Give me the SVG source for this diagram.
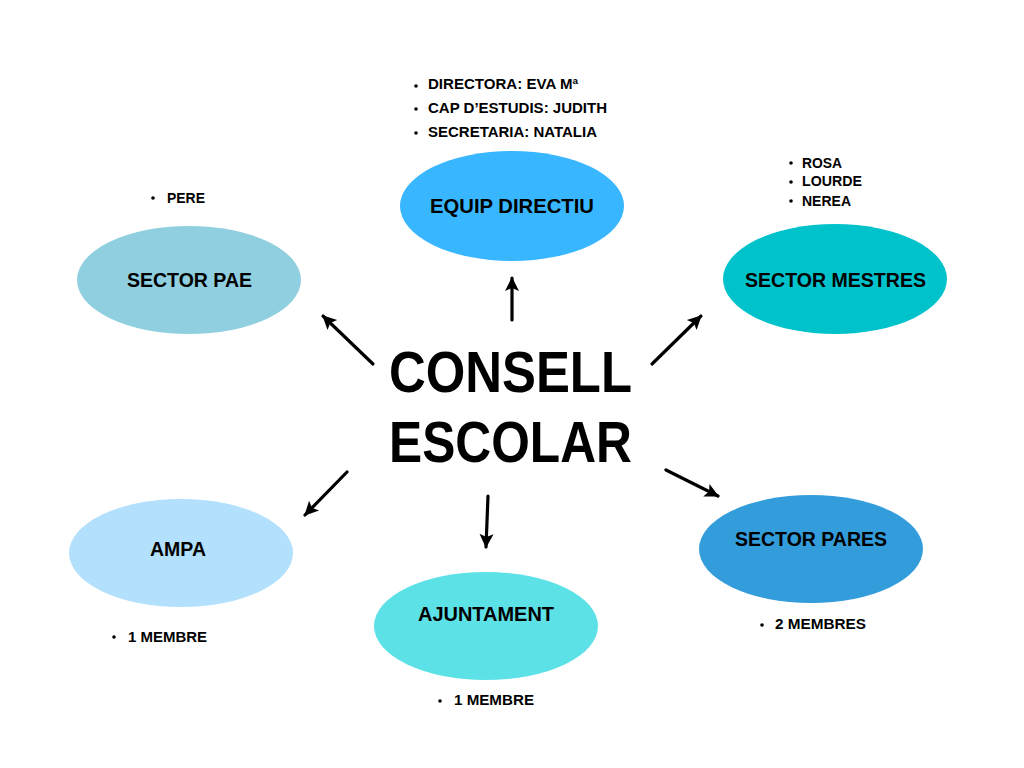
<svg xmlns="http://www.w3.org/2000/svg" width="1024" height="768" viewBox="0 0 1024 768">
<defs>
<marker id="ah" markerUnits="userSpaceOnUse" markerWidth="16" markerHeight="16" viewBox="0 0 16 16" refX="14" refY="8" orient="auto">
<path d="M1,1 L15,8 L1,15 L4,8 Z" fill="#000"/>
</marker>
</defs>
<style>
.lbl{font-family:"Liberation Sans",Arial,sans-serif;font-weight:bold;font-size:21px;fill:#000;text-anchor:start}
.sm{font-family:"Liberation Sans",Arial,sans-serif;font-weight:bold;font-size:14px;fill:#000}
.big{font-family:"Liberation Sans",Arial,sans-serif;font-weight:bold;font-size:58px;fill:#000}
.conn{stroke:#000;stroke-width:3.2;fill:none;stroke-linecap:round;marker-end:url(#ah)}
.dot{fill:#000}
</style>
<rect width="1024" height="768" fill="#fff"/>

<g id="connectors">
<line class="conn" x1="373" y1="364" x2="323" y2="316"/>
<line class="conn" x1="512" y1="320" x2="512" y2="278"/>
<line class="conn" x1="652" y1="364" x2="701" y2="316"/>
<line class="conn" x1="347" y1="472" x2="305" y2="515"/>
<line class="conn" x1="488" y1="496" x2="486" y2="547"/>
<line class="conn" x1="666" y1="470" x2="718" y2="496"/>
</g>

<g id="center">
<text class="big" x="389" y="392" textLength="243" lengthAdjust="spacingAndGlyphs">CONSELL</text>
<text class="big" x="389" y="462" textLength="243" lengthAdjust="spacingAndGlyphs">ESCOLAR</text>
</g>

<g id="equip-directiu">
<ellipse cx="512" cy="206" rx="112" ry="55" fill="#38B6FF"/>
<text class="lbl" x="430" y="213" textLength="164" lengthAdjust="spacingAndGlyphs">EQUIP DIRECTIU</text>
<circle class="dot" cx="416" cy="86" r="1.8"/>
<text class="sm" x="428" y="89" textLength="150" lengthAdjust="spacingAndGlyphs">DIRECTORA: EVA Mª</text>
<circle class="dot" cx="416" cy="109" r="1.8"/>
<text class="sm" x="428" y="113" textLength="179" lengthAdjust="spacingAndGlyphs">CAP D’ESTUDIS: JUDITH</text>
<circle class="dot" cx="416" cy="133" r="1.8"/>
<text class="sm" x="428" y="137" textLength="169" lengthAdjust="spacingAndGlyphs">SECRETARIA: NATALIA</text>
</g>

<g id="sector-pae">
<ellipse cx="189" cy="280" rx="112" ry="54" fill="#90CFDF"/>
<text class="lbl" x="127" y="287" textLength="125" lengthAdjust="spacingAndGlyphs">SECTOR PAE</text>
<circle class="dot" cx="153" cy="198" r="1.8"/>
<text class="sm" x="167" y="203" textLength="38" lengthAdjust="spacingAndGlyphs">PERE</text>
</g>

<g id="sector-mestres">
<ellipse cx="835" cy="279" rx="112" ry="55" fill="#00C2CB"/>
<text class="lbl" x="745" y="287" textLength="181" lengthAdjust="spacingAndGlyphs">SECTOR MESTRES</text>
<circle class="dot" cx="791" cy="163" r="1.8"/>
<text class="sm" x="802" y="168" textLength="40" lengthAdjust="spacingAndGlyphs">ROSA</text>
<circle class="dot" cx="791" cy="182" r="1.8"/>
<text class="sm" x="802" y="186" textLength="60" lengthAdjust="spacingAndGlyphs">LOURDE</text>
<circle class="dot" cx="791" cy="201" r="1.8"/>
<text class="sm" x="802" y="206" textLength="49" lengthAdjust="spacingAndGlyphs">NEREA</text>
</g>

<g id="ampa">
<ellipse cx="181" cy="553" rx="112" ry="54" fill="#B3E1FD"/>
<text class="lbl" x="150" y="556" textLength="56" lengthAdjust="spacingAndGlyphs">AMPA</text>
<circle class="dot" cx="114" cy="637" r="1.8"/>
<text class="sm" x="128" y="642" textLength="79" lengthAdjust="spacingAndGlyphs">1 MEMBRE</text>
</g>

<g id="ajuntament">
<ellipse cx="486" cy="626" rx="112" ry="54" fill="#5CE1E6"/>
<text class="lbl" x="418" y="621" textLength="136" lengthAdjust="spacingAndGlyphs">AJUNTAMENT</text>
<circle class="dot" cx="440" cy="701" r="1.8"/>
<text class="sm" x="454" y="705" textLength="80" lengthAdjust="spacingAndGlyphs">1 MEMBRE</text>
</g>

<g id="sector-pares">
<ellipse cx="811" cy="549" rx="112" ry="54" fill="#339CDB"/>
<text class="lbl" x="735" y="546" textLength="152" lengthAdjust="spacingAndGlyphs">SECTOR PARES</text>
<circle class="dot" cx="762" cy="625" r="1.8"/>
<text class="sm" x="775" y="629" textLength="91" lengthAdjust="spacingAndGlyphs">2 MEMBRES</text>
</g>
</svg>
